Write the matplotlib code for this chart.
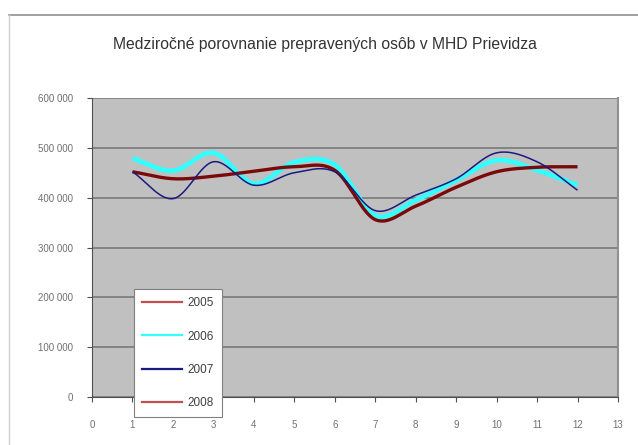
import numpy as np
import matplotlib
matplotlib.use("Agg")
import matplotlib.pyplot as plt
from matplotlib.lines import Line2D
from matplotlib.ticker import FuncFormatter

months = list(range(1, 13))
s2005 = [452000, 438000, 443000, 453000, 462000, 455000, 356000, 383000, 421000, 452000, 461000, 462000]
s2006 = [479000, 454000, 490000, 428000, 471000, 466000, 364000, 395000, 435000, 475000, 455000, 425000]
s2007 = [452000, 398000, 472000, 425000, 450000, 452000, 374000, 405000, 438000, 490000, 472000, 415000]
s2008 = []
labels = ["2005", "2006", "2007", "2008"]
colors = ["#7a0a0a", "#33ffff", "#1a1a80", "#c05050"]
widths = [2.4, 3.4, 1.1, 2.0]


def smooth(x, y, n=30):
    x = np.asarray(x, float)
    y = np.asarray(y, float)
    if len(x) < 3:
        return x, y
    px = np.concatenate([[2 * x[0] - x[1]], x, [2 * x[-1] - x[-2]]])
    py = np.concatenate([[2 * y[0] - y[1]], y, [2 * y[-1] - y[-2]]])
    xs, ys = [], []
    t = np.linspace(0, 1, n, endpoint=False)
    for i in range(1, len(px) - 2):
        p0x, p1x, p2x, p3x = px[i - 1:i + 3]
        p0y, p1y, p2y, p3y = py[i - 1:i + 3]
        for (a, b, c, d, out) in ((p0x, p1x, p2x, p3x, xs), (p0y, p1y, p2y, p3y, ys)):
            out.extend(0.5 * ((2 * b) + (-a + c) * t + (2 * a - 5 * b + 4 * c - d) * t ** 2
                              + (-a + 3 * b - 3 * c + d) * t ** 3))
    xs.append(x[-1]); ys.append(y[-1])
    return np.array(xs), np.array(ys)


fig = plt.figure(figsize=(6.38, 4.45), dpi=100)
plt.rcParams['font.family'] = ['Liberation Sans', 'DejaVu Sans']

# outer frame lines
fig.add_artist(Line2D([9 / 638, 1.0], [1 - 15 / 445, 1 - 15 / 445], color="#909090", lw=1.2, transform=fig.transFigure))
fig.add_artist(Line2D([9 / 638, 9 / 638], [0, 1 - 15 / 445], color="#d0d0d0", lw=1.0, transform=fig.transFigure))

ax = fig.add_axes([92 / 638, 1 - 397 / 445, (618 - 92) / 638, (397 - 98) / 445])
ax.set_facecolor("#c0c0c0")
ax.set_xlim(0, 13)
ax.set_ylim(0, 600000)
ax.set_xticks(range(0, 14))
ax.set_yticks(range(0, 600001, 100000))
ax.yaxis.set_major_formatter(FuncFormatter(lambda v, p: f"{int(v):,}".replace(",", " ")))
ax.grid(axis="y", color="#7a7a7a", lw=1.2)
ax.set_axisbelow(True)
ax.spines["top"].set_visible(False)
ax.spines["right"].set_color("#909090")
ax.spines["right"].set_linewidth(1.5)
ax.spines["left"].set_color("#505050")
ax.spines["bottom"].set_color("#505050")
ax.tick_params(axis="both", labelsize=7, colors="#505050", labelcolor="#707070", length=3.6, direction="out")
ax.tick_params(axis="x", pad=13)
ax.tick_params(axis="y", pad=10)

series = [s2005, s2006, s2007, s2008]
order = [1, 0, 2, 3]
for i in order:
    vals = series[i]
    if len(vals) == 0:
        continue
    xs, ys = smooth(months[:len(vals)], vals)
    ax.plot(xs, ys, color=colors[i], lw=widths[i], solid_capstyle="butt", zorder=3 + (i == 2))

handles = [Line2D([], [], color=colors[k] if k != 0 else "#c05050", lw=1.6) for k in range(4)]
leg = fig.legend(handles, labels, loc="upper left", bbox_to_anchor=(134 / 638, 1 - 289 / 445),
                 frameon=True, fancybox=False, edgecolor="#808080", fontsize=8.5,
                 framealpha=1, facecolor="white",
                 handlelength=3.4, labelspacing=1.8, borderpad=0.7, handletextpad=0.45,
                 borderaxespad=0)
leg.get_frame().set_linewidth(0.8)
for t in leg.get_texts():
    t.set_color("#404040")

fig.text(325 / 638, 1 - 45 / 445, "Medziročné porovnanie prepravených osôb v MHD Prievidza",
         ha="center", va="center", fontsize=11.3, color="#333333")

fig.savefig("out.png", dpi=100)
